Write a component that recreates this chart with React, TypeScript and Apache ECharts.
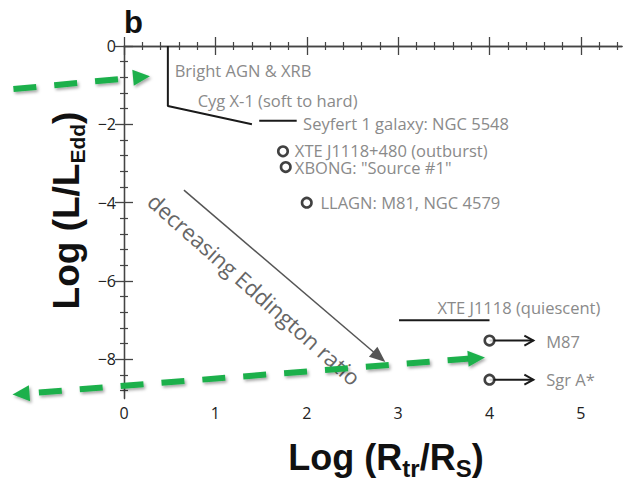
import React, { useEffect, useRef } from "react";
import * as echarts from "echarts";

// ---------- data ----------
const xMajorTicks = [0, 1, 2, 3, 4, 5];
const xMinorTicks = [0.2, 0.4, 0.6, 0.8, 1.2, 1.4, 1.6, 1.8, 2.2, 2.4, 2.6, 2.8, 3.2, 3.4, 3.6, 3.8, 4.2, 4.4, 4.6, 4.8, 5.2, 5.4];
const yMajorTicks = [0, -2, -4, -6, -8];
const yMinorTicks = [-0.4, -0.8, -1.2, -1.6, -2.4, -2.8, -3.2, -3.6, -4.4, -4.8, -5.2, -5.6, -6.4, -6.8, -7.2, -7.6, -8.4, -8.8];

// black tracks (log Rtr/Rs, log L/LEdd)
const brightAgnTrack = [[0.48, 0], [0.48, -1.53], [1.4, -2.0]];
const seyfertTrack = [[1.48, -1.91], [1.89, -1.91]];
const xteQuiescentTrack = [[3.01, -7.0], [4.0, -7.0]];

// open circles
const sourcePoints = [[1.74, -2.69], [1.77, -3.09], [2.0, -4.0], [4.0, -7.52], [4.0, -8.52]];

// arrows: x1, y1, x2, y2, headStart, headEnd
const limitArrows = [[4.0, -7.52, 4.48, -7.52, 0, 1], [4.0, -8.52, 4.48, -8.52, 0, 1]];
const trendArrow = [[0.656, -3.68, 2.86, -8.07, 0, 1]];
const greenArrows = [[-1.21, -1.1, 0.284, -0.77, 0, 1], [3.95, -7.95, -1.22, -8.9, 1, 1]];

const labelTexts = [
  "Bright AGN & XRB",
  "Cyg X-1 (soft to hard)",
  "Seyfert 1 galaxy: NGC 5548",
  "XTE J1118+480 (outburst)",
  'XBONG: "Source #1"',
  "LLAGN: M81, NGC 4579",
  "XTE J1118 (quiescent)",
  "M87",
  "Sgr A*",
];
const labelAnchors = [
  [0.555, -0.63],
  [0.806, -1.38],
  [1.96, -1.98],
  [1.87, -2.66],
  [1.87, -3.09],
  [2.15, -4.0],
  [3.43, -6.67],
  [4.62, -7.54],
  [4.62, -8.52],
];
const trendText = "decreasing Eddington ratio";
const trendTextAnchor = [[1.43, -6.2]];

const X_MIN = 0, X_MAX = 5.45, Y_MIN = -9, Y_MAX = 0;

const labelFont = "'Open Sans', 'Noto Sans', sans-serif";
const titleFont = "'Liberation Sans', Arial, sans-serif";

function makeArrowRender(o: {
  stroke: string; lineWidth: number; dash?: number[]; headLen: number; headHalf: number;
  open?: boolean; shadow?: boolean;
}) {
  return (params: any, api: any) => {
    const p1 = api.coord([api.value(0), api.value(1)]);
    const p2 = api.coord([api.value(2), api.value(3)]);
    const hs = api.value(4), he = api.value(5);
    const dx = p2[0] - p1[0], dy = p2[1] - p1[1];
    const len = Math.hypot(dx, dy);
    const ux = dx / len, uy = dy / len, nx = -uy, ny = ux;
    const L = o.headLen, W = o.headHalf;
    const cut = o.open ? 0 : L * 0.85;
    const s = hs ? [p1[0] + ux * cut, p1[1] + uy * cut] : p1;
    const e = he ? [p2[0] - ux * cut, p2[1] - uy * cut] : p2;
    const shadowStyle = o.shadow
      ? { shadowBlur: 3, shadowColor: "rgba(0,0,0,0.35)", shadowOffsetX: 1.5, shadowOffsetY: 2 }
      : {};
    const children: any[] = [
      {
        type: "line",
        shape: { x1: s[0], y1: s[1], x2: e[0], y2: e[1] },
        style: { stroke: o.stroke, lineWidth: o.lineWidth, lineDash: o.dash || null, lineCap: "butt", ...shadowStyle },
      },
    ];
    const head = (t: number[], vx: number, vy: number) => {
      const bx = t[0] - vx * L, by = t[1] - vy * L;
      const pts = [[bx + nx * W, by + ny * W], [t[0], t[1]], [bx - nx * W, by - ny * W]];
      if (o.open) {
        return { type: "polyline", shape: { points: pts }, style: { stroke: o.stroke, lineWidth: o.lineWidth, fill: null } };
      }
      return { type: "polygon", shape: { points: pts }, style: { fill: o.stroke, ...shadowStyle } };
    };
    if (he) children.push(head(p2, ux, uy));
    if (hs) children.push(head(p1, -ux, -uy));
    return { type: "group", children };
  };
}

function minusFmt(v: number) {
  return v === 0 ? "0" : String(v).replace("-", "\u2212");
}

export default function App() {
  const ref = useRef<HTMLDivElement>(null);
  useEffect(() => {
    if (!ref.current) return;
    const chart = echarts.init(ref.current, null, { renderer: "svg" });
    const axisLine = { show: true, lineStyle: { color: "#444", width: 1.3 } };
    const baseX = { type: "value", min: X_MIN, max: X_MAX, splitLine: { show: false } };
    const baseY = { type: "value", min: Y_MIN, max: Y_MAX, splitLine: { show: false } };
    const titleMain = { fontSize: 36, fontWeight: "bold", fontFamily: titleFont, fill: "#111", lineHeight: 38, verticalAlign: "top" };
    const option: any = {
      animation: false,
      backgroundColor: "#fff",
      grid: { left: 124, top: 46, right: 1, bottom: 82.5, containLabel: false },
      xAxis: [
        {
          ...baseX, position: "bottom", axisLine,
          axisTick: { show: true, inside: true, length: 9, customValues: xMajorTicks, lineStyle: { color: "#444", width: 1.3 } },
          axisLabel: { show: true, customValues: xMajorTicks, margin: 6, color: "#222", fontSize: 16, fontFamily: labelFont, formatter: minusFmt },
        },
        {
          ...baseX, position: "top", axisLine,
          axisTick: { show: true, inside: true, length: 9, customValues: xMajorTicks, lineStyle: { color: "#444", width: 1.3 } },
          axisLabel: { show: false },
        },
        {
          ...baseX, position: "bottom", axisLine: { show: false },
          axisTick: { show: true, inside: true, length: 4, customValues: xMinorTicks, lineStyle: { color: "#444", width: 1.2 } },
          axisLabel: { show: false },
        },
        {
          ...baseX, position: "top", axisLine: { show: false },
          axisTick: { show: true, inside: true, length: 4, customValues: xMinorTicks, lineStyle: { color: "#444", width: 1.2 } },
          axisLabel: { show: false },
        },
      ],
      yAxis: [
        {
          ...baseY, position: "left", axisLine,
          axisTick: { show: true, inside: true, length: 9, customValues: yMajorTicks, lineStyle: { color: "#444", width: 1.3 } },
          axisLabel: { show: true, customValues: yMajorTicks, margin: 8, color: "#222", fontSize: 16, fontFamily: labelFont, formatter: minusFmt },
        },
        {
          ...baseY, position: "right", axisLine,
          axisTick: { show: true, inside: true, length: 9, customValues: yMajorTicks, lineStyle: { color: "#444", width: 1.3 } },
          axisLabel: { show: false },
        },
        {
          ...baseY, position: "left", axisLine: { show: false },
          axisTick: { show: true, inside: true, length: 4, customValues: yMinorTicks, lineStyle: { color: "#444", width: 1.2 } },
          axisLabel: { show: false },
        },
        {
          ...baseY, position: "right", axisLine: { show: false },
          axisTick: { show: true, inside: true, length: 4, customValues: yMinorTicks, lineStyle: { color: "#444", width: 1.2 } },
          axisLabel: { show: false },
        },
      ],
      graphic: [
        {
          type: "text", x: 124, y: 22,
          style: { text: "b", fill: "#111", fontSize: 31, fontWeight: "bold", fontFamily: titleFont, align: "left", verticalAlign: "middle" },
        },
        {
          type: "text", x: 386, y: 458,
          style: {
            text: "{m|Log (R}{s|tr}{m|/R}{s|S}{m|)}",
            align: "center", verticalAlign: "middle",
            rich: {
              m: titleMain,
              s: { fontSize: 24, fontWeight: "bold", fontFamily: titleFont, fill: "#111", lineHeight: 24, verticalAlign: "top", padding: [17, 0, 0, 0] },
            },
          },
        },
        {
          type: "text", x: 66.5, y: 210.5, rotation: Math.PI / 2,
          style: {
            text: "{m|Log (L/L}{s|Edd}{m|)}",
            align: "center", verticalAlign: "middle",
            rich: {
              m: { ...titleMain, fontSize: 37 },
              s: { fontSize: 21, fontWeight: "bold", fontFamily: titleFont, fill: "#111", lineHeight: 22, verticalAlign: "top", padding: [19, 0, 0, 0] },
            },
          },
        },
      ],
      series: [
        { type: "line", data: brightAgnTrack, symbol: "none", lineStyle: { color: "#1a1a1a", width: 2 }, z: 3 },
        { type: "line", data: seyfertTrack, symbol: "none", lineStyle: { color: "#1a1a1a", width: 2 }, z: 3 },
        { type: "line", data: xteQuiescentTrack, symbol: "none", lineStyle: { color: "#1a1a1a", width: 2 }, z: 3 },
        {
          type: "custom", coordinateSystem: "cartesian2d", clip: false, z: 4,
          renderItem: makeArrowRender({ stroke: "#1a1a1a", lineWidth: 2, headLen: 9, headHalf: 5, open: true }),
          data: limitArrows,
        },
        {
          type: "scatter", data: sourcePoints, symbol: "circle", symbolSize: 9.5, z: 5,
          itemStyle: { color: "#fff", borderColor: "#111", borderWidth: 2.6 },
        },
        {
          type: "custom", coordinateSystem: "cartesian2d", clip: false, z: 4,
          renderItem: makeArrowRender({ stroke: "#555", lineWidth: 1.5, headLen: 16, headHalf: 6.5 }),
          data: trendArrow,
        },
        {
          type: "custom", coordinateSystem: "cartesian2d", clip: false, z: 5,
          renderItem: (params: any, api: any) => {
            const p = api.coord([api.value(0), api.value(1)]);
            return {
              type: "text", x: p[0], y: p[1],
              style: { text: labelTexts[params.dataIndex], fill: "#8a8a8a", fontSize: 16.5, lineHeight: 15, fontFamily: labelFont, align: "left", verticalAlign: "middle" },
            };
          },
          data: labelAnchors,
        },
        {
          type: "custom", coordinateSystem: "cartesian2d", clip: false, z: 5,
          renderItem: (params: any, api: any) => {
            const p = api.coord([api.value(0), api.value(1)]);
            return {
              type: "text", x: p[0], y: p[1], rotation: -41.7 * Math.PI / 180,
              style: { text: trendText, fill: "#666", fontSize: 22, fontFamily: labelFont, align: "center", verticalAlign: "middle" },
            };
          },
          data: trendTextAnchor,
        },
        {
          type: "custom", coordinateSystem: "cartesian2d", clip: false, z: 8,
          renderItem: makeArrowRender({ stroke: "#1db04c", lineWidth: 6, dash: [23, 18], headLen: 17, headHalf: 8, shadow: true }),
          data: greenArrows,
        },
      ],
    };
    chart.setOption(option);
    return () => chart.dispose();
  }, []);
  return (
    <div
      ref={ref}
      style={{ position: "absolute", left: 0, top: 0, width: 623, height: 481, background: "#fff" }}
    />
  );
}
